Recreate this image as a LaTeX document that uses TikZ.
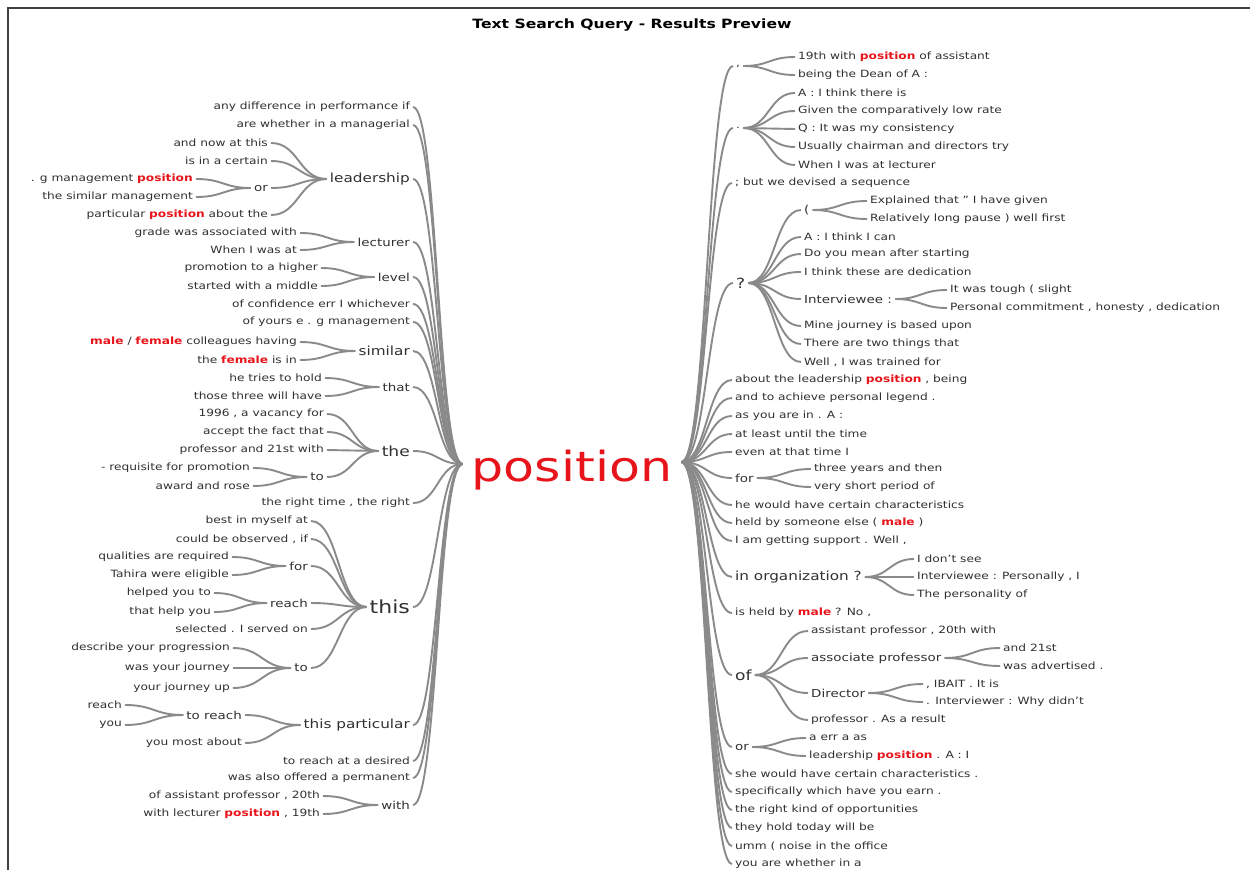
\documentclass[tikz,border=0pt]{standalone}
\usepackage{fontspec}
\setmainfont{DejaVu Sans}[FakeStretch=1.22]
\usetikzlibrary{calc}
\definecolor{hlred}{HTML}{E8141B}
\definecolor{txt}{HTML}{303030}
\definecolor{lnk}{HTML}{8A8A8A}
\newcommand\hl[1]{{\bfseries\color{hlred}#1}}
\newcommand\wlink[2]{\path (#1) coordinate (wA); \path (#2) coordinate (wB);
  \draw[link] let \p1=(wA), \p2=(wB) in (\p1) .. controls ({(\x1+\x2)/2},\y1) and ({(\x1+\x2)/2},\y2) .. (\p2);}
\tikzset{
  base/.style={text=txt, inner xsep=3pt, inner ysep=1pt, font=\fontsize{10}{12}\selectfont},
  lt/.style={base, anchor=east},
  rt/.style={base, anchor=west},
  sA/.style={font=\fontsize{11}{13}\selectfont},
  sB/.style={font=\fontsize{12.5}{15}\selectfont},
  sC/.style={font=\fontsize{14}{16}\selectfont},
  sD/.style={font=\fontsize{18}{20}\selectfont},
  link/.style={draw=lnk, line width=1.9pt},
  rootnode/.style={text=hlred, font=\fontsize{41.5}{45}\selectfont, inner xsep=9pt, inner ysep=0pt},
  ttl/.style={font=\fontsize{12.8}{15}\selectfont\bfseries, text=black}
}
\begin{document}
\begin{tikzpicture}[x=1pt,y=-1pt]
\useasboundingbox (0,0) rectangle (1250,870);
\draw[line width=2pt, black!75] (8,870) -- (8,8) -- (1250,8);
\node[ttl] (title) at (632,25) {Text Search Query - Results Preview};
\node[rootnode] (root) at (572,470) {position};
\coordinate (rootL) at ([yshift=6pt]root.west);
\coordinate (rootR) at ([yshift=8pt]root.east);

% ---------------- LEFT ----------------
\node[lt] (l1) at (413,107) {any difference in performance if};
\node[lt] (l2) at (413,125) {are whether in a managerial};
\node[lt,sB] (lead) at (413,179) {leadership};
 \node[lt] (lead1) at (271,143) {and now at this};
 \node[lt] (lead2) at (271,161) {is in a certain};
 \node[lt,sA] (leador) at (271,188) {or};
  \node[lt] (leador1) at (196,179) {. g management \hl{position}};
  \node[lt] (leador2) at (196,197) {the similar management};
 \node[lt] (lead4) at (271,215) {particular \hl{position} about the};
\node[lt,sA] (lect) at (413,242) {lecturer};
 \node[lt] (lect1) at (300,233) {grade was associated with};
 \node[lt] (lect2) at (300,250) {When I was at};
\node[lt,sA] (lev) at (413,277) {level};
 \node[lt] (lev1) at (321,268) {promotion to a higher};
 \node[lt] (lev2) at (321,286) {started with a middle};
\node[lt] (l6) at (413,304) {of confidence err I whichever};
\node[lt] (l7) at (413,322) {of yours e . g management};
\node[lt,sB] (sim) at (413,351) {similar};
 \node[lt] (sim1) at (300,342) {\hl{male} / \hl{female} colleagues having};
 \node[lt] (sim2) at (300,360) {the \hl{female} is in};
\node[lt,sA] (tha) at (413,387) {that};
 \node[lt] (tha1) at (325,378) {he tries to hold};
 \node[lt] (tha2) at (325,396) {those three will have};
\node[lt,sC] (the) at (413,451) {the};
 \node[lt] (the1) at (327,414) {1996 , a vacancy for};
 \node[lt] (the2) at (327,432) {accept the fact that};
 \node[lt] (the3) at (327,450) {professor and 21st with};
 \node[lt,sA] (theto) at (327,477) {to};
  \node[lt] (theto1) at (253,468) {- requisite for promotion};
  \node[lt] (theto2) at (253,486) {award and rose};
\node[lt] (l11) at (413,503) {the right time , the right};
\node[lt,sD] (this) at (413,607) {this};
 \node[lt] (this1) at (311,521) {best in myself at};
 \node[lt] (this2) at (311,539) {could be observed , if};
 \node[lt,sA] (thisfor) at (311,566) {for};
  \node[lt] (thisfor1) at (232,557) {qualities are required};
  \node[lt] (thisfor2) at (232,575) {Tahira were eligible};
 \node[lt,sA] (thisreach) at (311,603) {reach};
  \node[lt] (reach1) at (214,593) {helped you to};
  \node[lt] (reach2) at (214,612) {that help you};
 \node[lt] (this5) at (311,629) {selected . I served on};
 \node[lt,sA] (thisto) at (311,668) {to};
  \node[lt] (to1) at (233,648) {describe your progression};
  \node[lt] (to2) at (233,668) {was your journey};
  \node[lt] (to3) at (233,688) {your journey up};
\node[lt,sB] (tp) at (413,725) {this particular};
 \node[lt,sA] (tptr) at (245,715) {to reach};
  \node[lt] (tptr1) at (125,705) {reach};
  \node[lt] (tptr2) at (125,725) {you};
 \node[lt] (tp2) at (245,743) {you most about};
\node[lt] (l14) at (413,761) {to reach at a desired};
\node[lt] (l15) at (413,778) {was also offered a permanent};
\node[lt,sA] (with) at (413,805) {with};
 \node[lt] (with1) at (323,796) {of assistant professor , 20th};
 \node[lt] (with2) at (323,814) {with lecturer \hl{position} , 19th};

\foreach \nd in {l1,l2,lead,lect,lev,l6,l7,sim,tha,the,l11,this,tp,l14,l15,with}
  {\wlink{rootL}{\nd.east}}
\foreach \pa/\ch in {lead/lead1,lead/lead2,lead/leador,lead/lead4,leador/leador1,leador/leador2,
  lect/lect1,lect/lect2,lev/lev1,lev/lev2,sim/sim1,sim/sim2,tha/tha1,tha/tha2,
  the/the1,the/the2,the/the3,the/theto,theto/theto1,theto/theto2,
  this/this1,this/this2,this/thisfor,this/thisreach,this/this5,this/thisto,
  thisfor/thisfor1,thisfor/thisfor2,thisreach/reach1,thisreach/reach2,
  thisto/to1,thisto/to2,thisto/to3,tp/tptr,tp/tp2,tptr/tptr1,tptr/tptr2,
  with/with1,with/with2}
  {\wlink{\pa.west}{\ch.east}}

% ---------------- RIGHT ----------------
\node[rt] (comma) at (733,66) {,};
 \node[rt] (c1) at (795,57) {19th with \hl{position} of assistant};
 \node[rt] (c2) at (795,75) {being the Dean of A :};
\node[rt] (dot) at (733,128) {.};
 \node[rt] (d1) at (795,93) {A : I think there is};
 \node[rt] (d2) at (795,111) {Given the comparatively low rate};
 \node[rt] (d3) at (795,129) {Q : It was my consistency};
 \node[rt] (d4) at (795,147) {Usually chairman and directors try};
 \node[rt] (d5) at (795,165) {When I was at lecturer};
\node[rt] (r3) at (732,183) {; but we devised a sequence};
\node[rt,sC] (q) at (733,283) {?};
 \node[rt,sA] (qp) at (801,210) {(};
  \node[rt] (qp1) at (867,201) {Explained that " I have given};
  \node[rt] (qp2) at (867,219) {Relatively long pause ) well first};
 \node[rt] (q2) at (801,237) {A : I think I can};
 \node[rt] (q3) at (801,254) {Do you mean after starting};
 \node[rt] (q4) at (801,272) {I think these are dedication};
 \node[rt,sA] (qi) at (801,299) {Interviewee :};
  \node[rt] (qi1) at (947,290) {It was tough ( slight};
  \node[rt] (qi2) at (947,308) {Personal commitment , honesty , dedication};
 \node[rt] (q6) at (801,326) {Mine journey is based upon};
 \node[rt] (q7) at (801,344) {There are two things that};
 \node[rt] (q8) at (801,362) {Well , I was trained for};
\node[rt] (r5) at (732,380) {about the leadership \hl{position} , being};
\node[rt] (r6) at (732,398) {and to achieve personal legend .};
\node[rt] (r7) at (732,416) {as you are in . A :};
\node[rt] (r8) at (732,434) {at least until the time};
\node[rt] (r9) at (732,452) {even at that time I};
\node[rt,sA] (rfor) at (732,478) {for};
 \node[rt] (rfor1) at (811,469) {three years and then};
 \node[rt] (rfor2) at (811,487) {very short period of};
\node[rt] (r11) at (732,505) {he would have certain characteristics};
\node[rt] (r12) at (732,523) {held by someone else ( \hl{male} )};
\node[rt] (r13) at (732,541) {I am getting support . Well ,};
\node[rt,sB] (rorg) at (732,577) {in organization ?};
 \node[rt] (o1) at (914,559) {I don't see};
 \node[rt] (o2) at (914,577) {Interviewee : Personally , I};
 \node[rt] (o3) at (914,595) {The personality of};
\node[rt] (r15) at (732,613) {is held by \hl{male} ? No ,};
\node[rt,sC] (rof) at (732,675) {of};
 \node[rt] (of1) at (808,631) {assistant professor , 20th with};
 \node[rt,sA] (ofa) at (808,658) {associate professor};
  \node[rt] (ofa1) at (1000,648) {and 21st};
  \node[rt] (ofa2) at (1000,666) {was advertised .};
 \node[rt,sA] (ofd) at (808,693) {Director};
  \node[rt] (ofd1) at (923,684) {, IBAIT . It is};
  \node[rt] (ofd2) at (923,702) {. Interviewer : Why didn't};
 \node[rt] (of4) at (808,720) {professor . As a result};
\node[rt,sA] (ror) at (732,747) {or};
 \node[rt] (ror1) at (806,738) {a err a as};
 \node[rt] (ror2) at (806,756) {leadership \hl{position} . A : I};
\node[rt] (r18) at (732,774) {she would have certain characteristics .};
\node[rt] (r19) at (732,792) {specifically which have you earn .};
\node[rt] (r20) at (732,810) {the right kind of opportunities};
\node[rt] (r21) at (732,828) {they hold today will be};
\node[rt] (r22) at (732,846) {umm ( noise in the office};
\node[rt] (r23) at (732,864) {you are whether in a};

\foreach \nd in {comma,dot,r3,q,r5,r6,r7,r8,r9,rfor,r11,r12,r13,rorg,r15,rof,ror,r18,r19,r20,r21,r22,r23}
  {\wlink{rootR}{\nd.west}}
\foreach \pa/\ch in {comma/c1,comma/c2,dot/d1,dot/d2,dot/d3,dot/d4,dot/d5,
  q/qp,q/q2,q/q3,q/q4,q/qi,q/q6,q/q7,q/q8,qp/qp1,qp/qp2,qi/qi1,qi/qi2,
  rfor/rfor1,rfor/rfor2,rorg/o1,rorg/o2,rorg/o3,
  rof/of1,rof/ofa,rof/ofd,rof/of4,ofa/ofa1,ofa/ofa2,ofd/ofd1,ofd/ofd2,
  ror/ror1,ror/ror2}
  {\wlink{\pa.east}{\ch.west}}
\end{tikzpicture}
\end{document}
